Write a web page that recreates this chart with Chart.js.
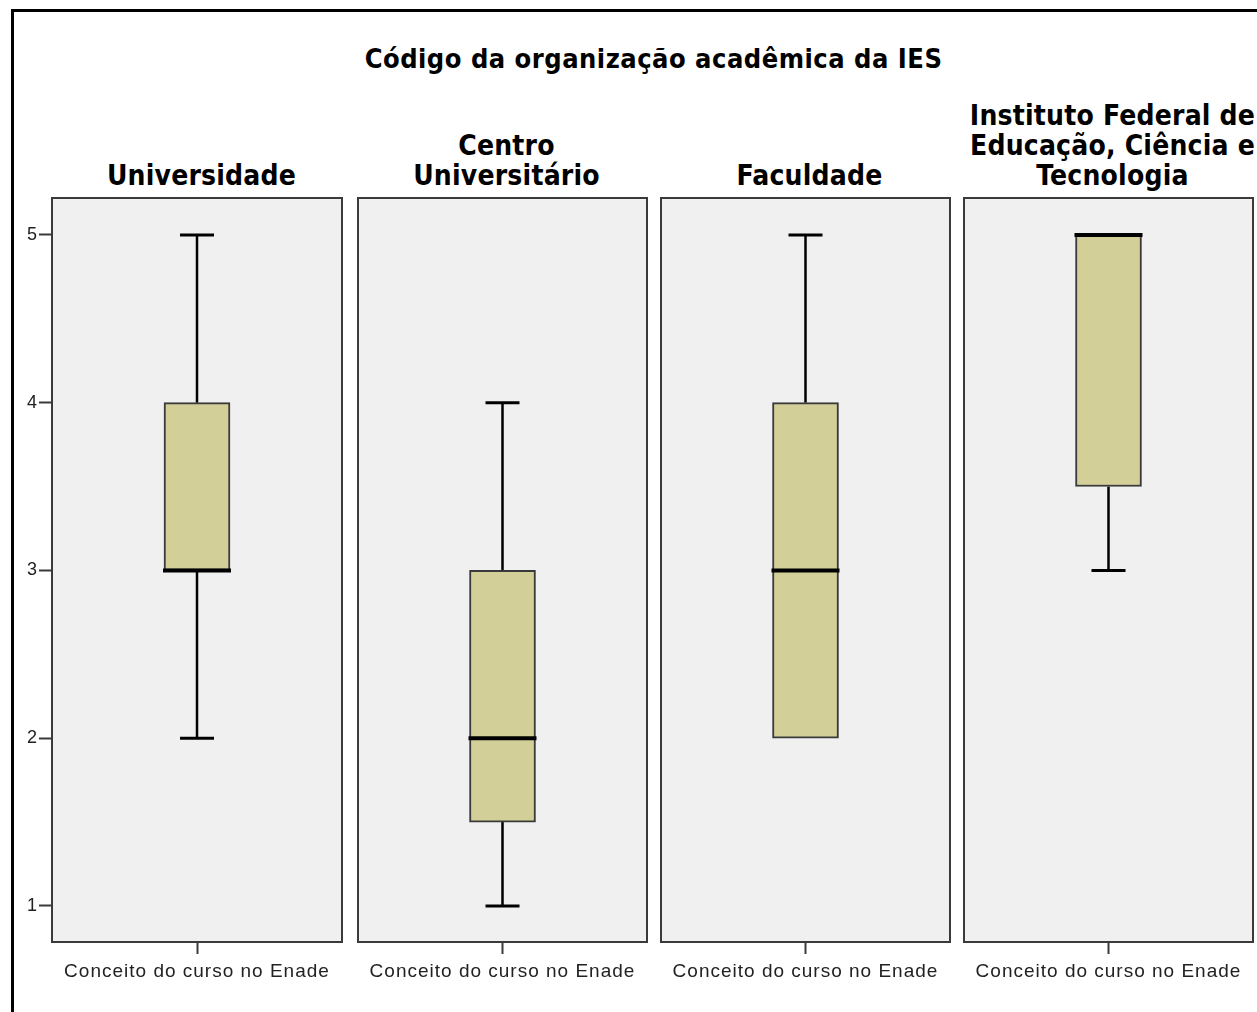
<!DOCTYPE html>
<html>
<head>
<meta charset="utf-8">
<script src="https://cdn.jsdelivr.net/npm/chart.js@4.4.1/dist/chart.umd.min.js"></script>
<style>
  html, body { margin: 0; padding: 0; background: #fff; overflow: hidden; }
  body { width: 1257px; height: 1012px; position: relative; }
  #frame { position: absolute; left: 11px; top: 9px; width: 1300px; height: 1100px; border: 3px solid #000; box-sizing: border-box; }
  .titulo { position: absolute; font-family: "DejaVu Sans Condensed", "DejaVu Sans", sans-serif; font-weight: bold; color: #000; text-align: center; }
  #principal { left: 0; width: 1307px; top: 43px; font-size: 27px; line-height: 32px; letter-spacing: 0.5px; }
  .panel-t { font-size: 28px; letter-spacing: 0.2px; line-height: 30px; width: 330px; }
  canvas { position: absolute; }
</style>
</head>
<body>
<div id="frame"></div>
<div class="titulo" id="principal">Código da organização acadêmica da IES</div>
<div id="contenedor"></div>
<script>
// categorias (paineis) e estatisticas do boxplot
const categorias = ['Universidade', 'Centro Universitário', 'Faculdade', 'Instituto Federal de Educação, Ciência e Tecnologia'];
const titulos = [['Universidade'], ['Centro', 'Universitário'], ['Faculdade'], ['Instituto Federal de', 'Educação, Ciência e', 'Tecnologia']];
const minimos = [2, 1, 2, 3];
const q1s = [3, 1.5, 2, 3.5];
const medianas = [3, 2, 3, 5];
const q3s = [4, 3, 4, 5];
const maximos = [5, 4, 5, 5];
const rotuloX = ['Conceito do curso no Enade'];
const yTicks = [1, 2, 3, 4, 5];
const yMin = 0.785;
const yMax = 5.22;

const paineisX = [53, 358, 661, 964];
const larguraPainel = 289;
const topoPainel = 198;
const alturaPainel = 744;

// fundo e moldura de cada painel
const painelPlugin = {
    id: 'painel',
    beforeDraw(chart) {
        const a = chart.chartArea, ctx = chart.ctx;
        ctx.letterSpacing = '1px';
        ctx.save();
        ctx.fillStyle = '#f0f0f0';
        ctx.fillRect(a.left, a.top, a.right - a.left, a.bottom - a.top);
        ctx.restore();
    },
    afterDraw(chart) {
        const a = chart.chartArea, ctx = chart.ctx;
        ctx.save();
        ctx.strokeStyle = '#3a3a3a';
        ctx.lineWidth = 2;
        ctx.strokeRect(a.left, a.top, a.right - a.left, a.bottom - a.top);
        ctx.restore();
    }
};

// bigodes e mediana usando as escalas do grafico
const bigodePlugin = {
    id: 'bigode',
    beforeDatasetsDraw(chart) {
        const i = chart.options.plugins.bigode.indice;
        const x = chart.scales.x.getPixelForValue(0);
        const y = chart.scales.y;
        const cap = 17;
        const ctx = chart.ctx;
        ctx.save();
        ctx.strokeStyle = '#000';
        ctx.lineWidth = 2.5;
        ctx.beginPath();
        ctx.moveTo(x, y.getPixelForValue(maximos[i]));
        ctx.lineTo(x, y.getPixelForValue(q3s[i]));
        ctx.moveTo(x, y.getPixelForValue(q1s[i]));
        ctx.lineTo(x, y.getPixelForValue(minimos[i]));
        ctx.stroke();
        ctx.lineWidth = 3;
        ctx.beginPath();
        if (maximos[i] > q3s[i]) {
            ctx.moveTo(x - cap, y.getPixelForValue(maximos[i]));
            ctx.lineTo(x + cap, y.getPixelForValue(maximos[i]));
        }
        if (minimos[i] < q1s[i]) {
            ctx.moveTo(x - cap, y.getPixelForValue(minimos[i]));
            ctx.lineTo(x + cap, y.getPixelForValue(minimos[i]));
        }
        ctx.stroke();
        ctx.restore();
    },
    afterDatasetsDraw(chart) {
        const i = chart.options.plugins.bigode.indice;
        const bar = chart.getDatasetMeta(0).data[0];
        const y = chart.scales.y.getPixelForValue(medianas[i]);
        const ctx = chart.ctx;
        ctx.save();
        ctx.strokeStyle = '#000';
        ctx.lineWidth = 4;
        ctx.beginPath();
        ctx.moveTo(bar.x - bar.width / 2 - 1, y);
        ctx.lineTo(bar.x + bar.width / 2 + 1, y);
        ctx.stroke();
        ctx.restore();
    }
};

const contenedor = document.getElementById('contenedor');

categorias.forEach((cat, i) => {
    const primeiro = i === 0;
    const margemY = primeiro ? 40 : 0;
    const canvas = document.createElement('canvas');
    const w = larguraPainel + margemY + 2;
    const h = alturaPainel + 2 + 60;
    canvas.width = w;
    canvas.height = h;
    canvas.style.width = w + 'px';
    canvas.style.height = h + 'px';
    canvas.style.left = (paineisX[i] - margemY - 1) + 'px';
    canvas.style.top = (topoPainel - 2) + 'px';
    contenedor.appendChild(canvas);

    // titulo do painel
    const t = document.createElement('div');
    t.className = 'titulo panel-t';
    t.innerHTML = titulos[i].join('<br>');
    t.style.left = (paineisX[i] + larguraPainel / 2 - 165 + 4) + 'px';
    t.style.top = (191 - titulos[i].length * 30) + 'px';
    contenedor.appendChild(t);

    new Chart(canvas.getContext('2d'), {
        type: 'bar',
        data: {
            labels: rotuloX,
            datasets: [{
                label: cat,
                data: [[q1s[i], q3s[i]]],
                backgroundColor: '#d3cf98',
                borderColor: '#3a3a3a',
                borderWidth: 2,
                borderSkipped: false,
                barThickness: 66
            }]
        },
        options: {
            responsive: false,
            animation: false,
            layout: { padding: { top: 2, left: primeiro ? 0 : 1, right: 1, bottom: 0 } },
            plugins: {
                legend: { display: false },
                tooltip: { enabled: false },
                bigode: { indice: i }
            },
            scales: {
                x: {
                    afterFit(scale) {
                        scale.height = 60;
                        scale.paddingLeft = 0;
                        scale.paddingRight = 0;
                    },
                    border: { display: false },
                    grid: {
                        offset: false,
                        drawOnChartArea: false,
                        drawTicks: true,
                        tickLength: 12,
                        tickWidth: 2,
                        color: '#3a3a3a'
                    },
                    ticks: {
                        color: '#222',
                        padding: 6,
                        maxRotation: 0,
                        font: { family: '"Liberation Sans", Arial, sans-serif', size: 19 }
                    }
                },
                y: {
                    display: primeiro,
                    min: yMin,
                    max: yMax,
                    afterFit(scale) {
                        if (primeiro) scale.width = 40;
                        scale.paddingTop = 0;
                        scale.paddingBottom = 0;
                    },
                    afterBuildTicks(scale) { scale.ticks = yTicks.map(v => ({ value: v })); },
                    border: { display: false },
                    grid: {
                        drawOnChartArea: false,
                        drawTicks: true,
                        tickLength: 13,
                        tickWidth: 2,
                        color: '#3a3a3a'
                    },
                    ticks: {
                        color: '#222',
                        padding: 1,
                        font: { family: '"Liberation Sans", Arial, sans-serif', size: 18 }
                    }
                }
            }
        },
        plugins: [painelPlugin, bigodePlugin]
    });
});
</script>
</body>
</html>
